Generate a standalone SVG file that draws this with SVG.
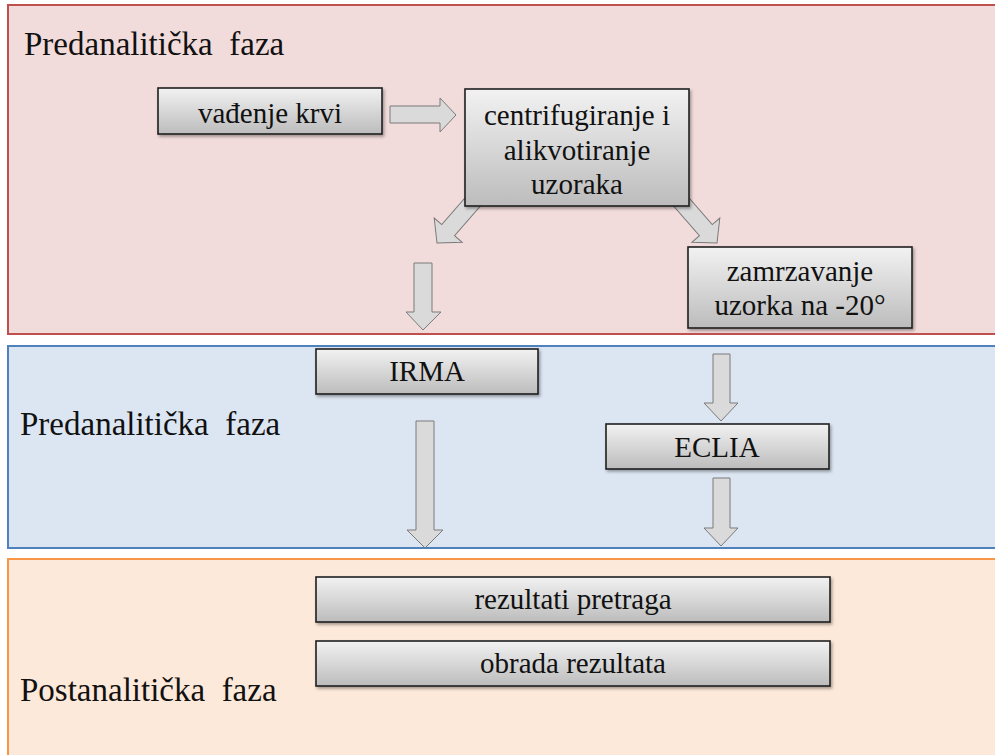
<svg xmlns="http://www.w3.org/2000/svg" width="995" height="755" viewBox="0 0 995 755">
  <defs>
    <linearGradient id="boxGrad" x1="0" y1="0" x2="0" y2="1">
      <stop offset="0" stop-color="#f2f2f2"/>
      <stop offset="1" stop-color="#bcbcbc"/>
    </linearGradient>
    <filter id="shadow" x="-10%" y="-20%" width="125%" height="150%">
      <feDropShadow dx="1.5" dy="2" stdDeviation="1.5" flood-color="#000" flood-opacity="0.35"/>
    </filter>
    <style>
      .box { fill: url(#boxGrad); stroke: #1e1e1e; stroke-width: 1.6; filter: url(#shadow); }
      .arrow { fill: #dadada; stroke: #7a7a7a; stroke-width: 1; }
    </style>
  </defs>

  <rect width="995" height="755" fill="#ffffff"/>

  <g id="panels">
    <rect id="panel-pre" x="8" y="5" width="1000" height="329" fill="#f2dcdb" stroke="#c0504d" stroke-width="2"/>
    <rect id="panel-ana" x="8" y="346" width="1000" height="202" fill="#dce6f2" stroke="#4f81bd" stroke-width="2"/>
    <rect id="panel-post" x="8" y="559" width="1000" height="220" fill="#fde9d9" stroke="#f79646" stroke-width="2"/>
    <g font-family="'Liberation Serif', 'Times New Roman', serif" font-size="33" fill="#111">
      <text x="24" y="55" xml:space="preserve">Predanalitička  faza</text>
      <text x="20" y="435" xml:space="preserve">Predanalitička  faza</text>
      <text x="20" y="701" xml:space="preserve">Postanalitička  faza</text>
    </g>
  </g>

  <g id="connectors">
    <polygon class="arrow" points="390,106 440,106 440,98 456,115 440,132 440,123 390,123"/>
    <polygon class="arrow" transform="translate(437,243) rotate(41)" points="-8.5,-62 8.5,-62 8.5,-17 18.5,-17 0,0 -18.5,-17 -8.5,-17"/>
    <polygon class="arrow" transform="translate(717,243) rotate(-41)" points="-8.5,-62 8.5,-62 8.5,-17 18.5,-17 0,0 -18.5,-17 -8.5,-17"/>
    <polygon class="arrow" points="414,263 432,263 432,312 441,312 423,330 406,312 414,312"/>
    <polygon class="arrow" points="416,421 434,421 434,530 443,530 425,548 407,530 416,530"/>
    <polygon class="arrow" points="713,354 730,354 730,403 738,403 721,421 704,403 713,403"/>
    <polygon class="arrow" points="713,478 730,478 730,528 738,528 721,546 704,528 713,528"/>
  </g>

  <g font-family="'Liberation Serif', 'Times New Roman', serif" font-size="29" fill="#111" text-anchor="middle">
    <g id="node-vadjenje">
      <rect class="box" x="158" y="88" width="224" height="46"/>
      <text x="270" y="123">vađenje krvi</text>
    </g>

    <g id="node-centrifugiranje">
      <rect class="box" x="465" y="89" width="224" height="117"/>
      <text x="577" y="125">centrifugiranje i</text>
      <text x="577" y="160">alikvotiranje</text>
      <text x="577" y="194">uzoraka</text>
    </g>

    <g id="node-zamrzavanje">
      <rect class="box" x="688" y="247" width="224" height="81"/>
      <text x="800" y="281">zamrzavanje</text>
      <text x="800" y="315">uzorka na -20°</text>
    </g>

    <g id="node-irma">
      <rect class="box" x="316" y="349" width="222" height="45"/>
      <text x="427" y="381">IRMA</text>
    </g>

    <g id="node-eclia">
      <rect class="box" x="606" y="424" width="223" height="45"/>
      <text x="717" y="457">ECLIA</text>
    </g>

    <g id="node-rezultati">
      <rect class="box" x="316" y="577" width="514" height="45"/>
      <text x="573" y="609">rezultati pretraga</text>
    </g>

    <g id="node-obrada">
      <rect class="box" x="316" y="641" width="514" height="45"/>
      <text x="573" y="673">obrada rezultata</text>
    </g>
  </g>
</svg>
